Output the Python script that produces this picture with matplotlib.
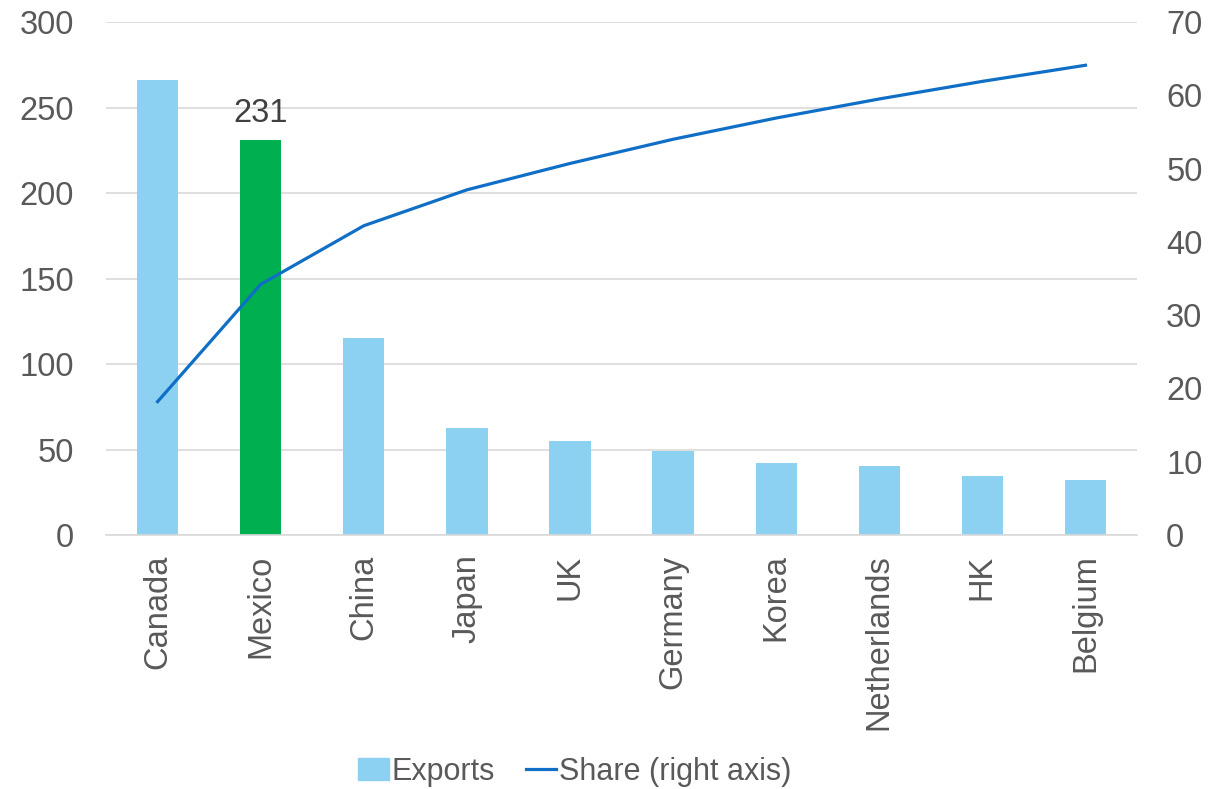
import matplotlib

matplotlib.use("Agg")

import matplotlib.pyplot as plt
import numpy as np
from matplotlib.lines import Line2D
from matplotlib.patches import Patch

countries = ["Canada", "Mexico", "China", "Japan", "UK", "Germany",
             "Korea", "Netherlands", "HK", "Belgium"]
exports = [266, 231, 115.5, 62.7, 54.9, 49.2, 42.2, 40.5, 34.8, 32.0]
share = [18.2, 34.2, 42.2, 47.1, 50.7, 54.0, 56.9, 59.5, 61.9, 64.1]
highlight = "Mexico"

plt.rcParams["font.family"] = ["Liberation Sans", "DejaVu Sans"]
text_color = "#595959"
bar_color = "#8DD1F2"
green = "#00B050"
line_color = "#0F6FC6"

fig = plt.figure(figsize=(12.23, 7.89), dpi=100)
ax = fig.add_axes([0.0867, 0.3219, 0.843, 0.6502])
ax2 = ax.twinx()

x = np.arange(len(countries))
colors = [green if c == highlight else bar_color for c in countries]
ax.bar(x, exports, width=0.4, color=colors, zorder=2)

idx = countries.index(highlight)
ax.annotate(f"{exports[idx]:.0f}", (x[idx], exports[idx]), xytext=(0, 8),
            textcoords="offset points", ha="center", va="bottom",
            fontsize=23.5, color="#404040")

ax2.plot(x, share, color=line_color, lw=2.3, zorder=3)

ax.set_xlim(-0.5, len(countries) - 0.5)
ax.set_ylim(0, 300)
ax.set_yticks(np.arange(0, 301, 50))
ax2.set_ylim(0, 70)
ax2.set_yticks(np.arange(0, 71, 10))

ax.yaxis.grid(True, color="#D9D9D9", lw=1.2, zorder=0)
ax.set_axisbelow(True)

for a in (ax, ax2):
    for s in a.spines.values():
        s.set_visible(False)
    a.tick_params(length=0, labelsize=23.5, colors=text_color)
ax.spines["bottom"].set_visible(True)
ax.spines["bottom"].set_color("#D9D9D9")
ax.spines["bottom"].set_linewidth(1.2)

ax.set_xticks(x)
ax.set_xticklabels(countries, rotation=90, fontsize=23.5, color=text_color)
ax.tick_params(axis="x", pad=14)
ax.tick_params(axis="y", pad=23)
ax2.tick_params(axis="y", pad=21)

handles = [Patch(color=bar_color, label="Exports"),
           Line2D([0], [0], color=line_color, lw=2.3, label="Share (right axis)")]
fig.legend(handles=handles, loc="center", bbox_to_anchor=(0.47, 0.022), ncol=2,
           frameon=False, fontsize=22, labelcolor=text_color,
           handlelength=1.0, handletextpad=0.1, columnspacing=1.0)

fig.savefig("out.png", dpi=100)
